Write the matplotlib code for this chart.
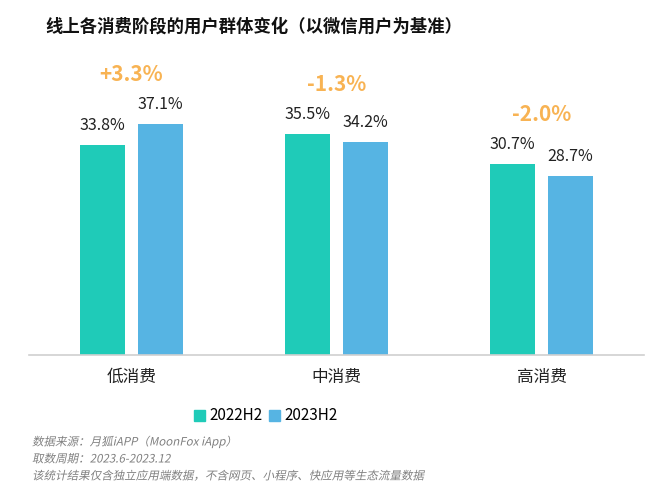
import matplotlib
matplotlib.use('Agg')
import matplotlib.pyplot as plt
from matplotlib.patches import Patch
from matplotlib.patheffects import AbstractPathEffect
from matplotlib.transforms import Affine2D
import numpy as np

plt.rcParams['font.family'] = ['Noto Sans CJK SC', 'DejaVu Sans']

# data
categories = ['低消费', '中消费', '高消费']
series_names = ['2022H2', '2023H2']
v2022 = [33.8, 35.5, 30.7]
v2023 = [37.1, 34.2, 28.7]
changes = ['+3.3%', '-1.3%', '-2.0%']
notes = ['数据来源：月狐iAPP（MoonFox iApp）',
         '取数周期：2023.6-2023.12',
         '该统计结果仅含独立应用端数据，不含网页、小程序、快应用等生态流量数据']

c1 = '#1fcbb8'
c2 = '#56b4e3'
orange = '#f8b353'


class Oblique(AbstractPathEffect):
    # fake italic for the CJK font (it has no italic face)
    def draw_path(self, renderer, gc, tpath, affine, rgbFace=None):
        x0, y0 = affine.transform((0, 0))
        a = affine + Affine2D().translate(-x0, -y0).skew_deg(12, 0).translate(x0, y0)
        renderer.draw_path(gc, tpath, a, rgbFace)


fig = plt.figure(figsize=(6.62, 5.0), dpi=100)
W, H = 662.0, 500.0
# axes: x 29..644 px, baseline y 355, top at y 75
ax = fig.add_axes([29 / W, 1 - 355 / H, 615 / W, 280 / H])

x = np.arange(len(categories))
bw = 0.224
off = 0.1415
b1 = ax.bar(x - off, v2022, bw, color=c1)
b2 = ax.bar(x + off, v2023, bw, color=c2)
ax.set_xlim(-0.5, 2.5)
ax.set_ylim(0, 45)

for rect, v in zip(list(b1) + list(b2), v2022 + v2023):
    ax.annotate('%.1f%%' % v, xy=(rect.get_x() + rect.get_width() / 2, v),
                xytext=(0, 8), textcoords='offset points',
                ha='center', va='bottom', fontsize=11.5, color='#222222')

for i, ch in enumerate(changes):
    top = max(v2022[i], v2023[i])
    ax.annotate(ch, xy=(x[i], top), xytext=(0, 28), textcoords='offset points',
                ha='center', va='bottom', fontsize=15, fontweight='bold', color=orange)

for s in ['top', 'right', 'left']:
    ax.spines[s].set_visible(False)
ax.spines['bottom'].set_color('#d0d0d0')
ax.spines['bottom'].set_linewidth(1.2)
ax.set_yticks([])
ax.set_xticks(x)
ax.set_xticklabels(categories, fontsize=12, color='#222222')
ax.tick_params(axis='x', length=0, pad=10)

fig.text(254 / W, 1 - 27 / H, '线上各消费阶段的用户群体变化（以微信用户为基准）',
         ha='center', va='center', fontsize=12.5, fontweight='heavy', color='#111111')

handles = [Patch(color=c1), Patch(color=c2)]
fig.legend(handles, series_names, loc='center', bbox_to_anchor=(266 / W, 1 - 416 / H),
           ncol=2, frameon=False, fontsize=11, handlelength=0.7, handleheight=0.7,
           handletextpad=0.3, columnspacing=0.4)

for i, n in enumerate(notes):
    fig.text(32 / W, 1 - (442 + i * 17) / H, n, ha='left', va='center',
             fontsize=8.3, color='#808080', path_effects=[Oblique()])

fig.savefig('out.png', dpi=100)
